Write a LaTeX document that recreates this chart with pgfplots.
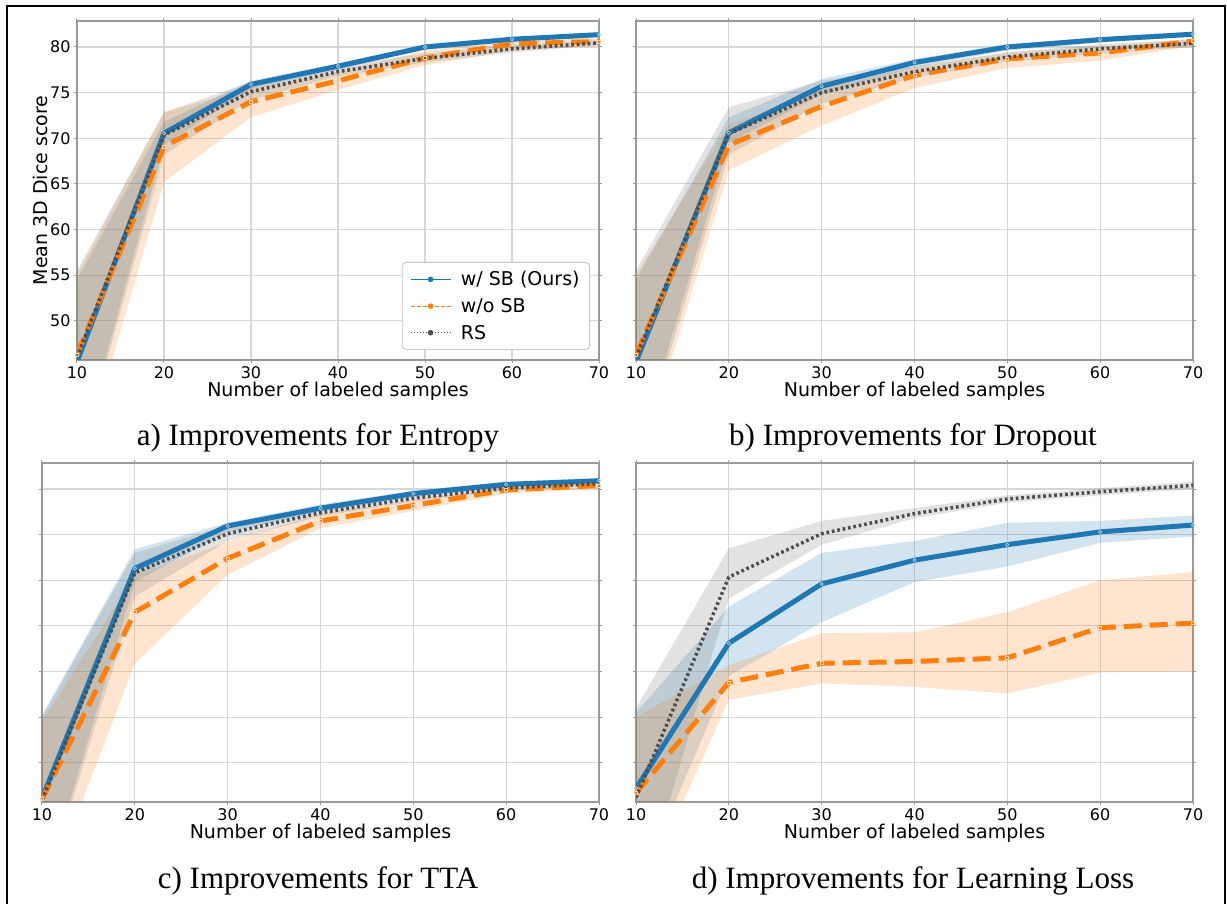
\documentclass[border=0pt]{standalone}
\usepackage{pgfplots}
\pgfplotsset{compat=1.18}
\usepackage{fontspec}
\setmainfont{DejaVu Sans}
\newfontfamily\capfont{Liberation Serif}

\definecolor{cblue}{HTML}{1F77B4}
\definecolor{corange}{HTML}{FF7F0E}
\definecolor{cgray}{HTML}{4D4D4D}
\definecolor{cgrayband}{HTML}{707070}

\pgfplotsset{
  panel/.style={
    scale only axis, width=557pt, height=339pt,
    xmin=10, xmax=70, ymin=45.7, ymax=82.85,
    xtick={10,20,...,70}, ytick={50,55,...,80},
    grid=major, grid style={black!16, line width=1.1pt},
    axis line style={black!40, line width=1.3pt},
    tick align=outside, major tick length=3pt, tick style={black!40, line width=1pt},
    ticklabel style={font=\fontsize{16}{19}\selectfont},
    /pgf/number format/assume math mode=true,
    xlabel={Number of labeled samples},
    every axis x label/.style={at={(axis description cs:0.5,0)}, anchor=base, yshift=-37pt,
      font=\fontsize{19}{23}\selectfont},
    clip=true,
  },
  noylabels/.style={yticklabel={\relax}},
  band/.style={draw=none, fill=#1, fill opacity=0.2, forget plot},
  wsb/.style={cblue, line width=5pt, line join=round, forget plot,
    mark=o, mark size=1.7pt, mark options={solid, draw=white!65!cblue, line width=0.7pt}},
  wosb/.style={corange, line width=5pt, line join=round, forget plot, dash pattern=on 18pt off 8pt,
    mark=square, mark size=1.5pt, mark options={solid, draw=white!65!corange, line width=0.7pt}},
  rs/.style={cgray, line width=3.5pt, forget plot, dash pattern=on 2.7pt off 2.8pt},
}

\begin{document}
\begin{tikzpicture}
\useasboundingbox (0,0) rectangle (1227pt,903pt);
\draw[line width=2pt] (7pt,-10pt) -- (7pt,897pt) -- (1225pt,897pt) -- (1225pt,-10pt);

% ---------------- a) Entropy ----------------
\begin{axis}[panel, at={(77pt,543pt)}, anchor=south west, width=522pt,
  ylabel={Mean 3D Dice score},
  every axis y label/.style={at={(axis description cs:-0.0556,0.5)}, rotate=90, anchor=base,
    font=\fontsize{19}{23}\selectfont},
  legend cell align=left,
  legend image code/.code={
    \draw[#1, line width=0.7pt] (0pt,0pt) -- (40pt,0pt);
    \fill[#1, solid] (20pt,0pt) circle (2.3pt);
  },
  legend style={at={(axis description cs:0.9828,0.0295)}, anchor=south east,
    draw=black!22, rounded corners=4pt, fill=white, line width=0.9pt,
    font=\fontsize{19}{23}\selectfont, row sep=7pt, column sep=8pt,
    inner xsep=8pt, inner ysep=7pt},
]
\addplot[band=cblue] coordinates {(10,54.5)(20,71.8)(30,76.3)(40,78.2)(50,80.3)(60,81.1)(70,81.6)
  (70,81.1)(60,80.6)(50,79.7)(40,77.5)(30,75.4)(20,69.3)(10,34.5)};
\addplot[band=corange] coordinates {(10,55.0)(20,72.9)(30,75.5)(40,77.3)(50,79.6)(60,81.0)(70,81.0)
  (70,80.1)(60,79.6)(50,78.0)(40,75.3)(30,72.3)(20,65.2)(10,32.7)};
\addplot[band=cgrayband] coordinates {(10,55.5)(20,72.8)(30,76.2)(40,77.9)(50,79.3)(60,80.2)(70,80.8)
  (70,80.2)(60,79.4)(50,78.3)(40,76.8)(30,74.2)(20,68.2)(10,33.8)};
\addplot[wsb] coordinates {(10,45.5)(20,70.55)(30,75.9)(40,77.9)(50,80.0)(60,80.85)(70,81.35)};
\addplot[wosb] coordinates {(10,46.3)(20,69.1)(30,74.0)(40,76.3)(50,78.8)(60,80.35)(70,80.6)};
\addplot[rs] coordinates {(10,46.0)(20,70.35)(30,75.1)(40,77.3)(50,78.75)(60,79.8)(70,80.45)};
\addlegendimage{cblue}
\addlegendentry{w/ SB (Ours)}
\addlegendimage{corange, dash pattern=on 4pt off 2pt}
\addlegendentry{w/o SB}
\addlegendimage{cgray, dash pattern=on 1.5pt off 1.5pt}
\addlegendentry{RS}
\end{axis}

% ---------------- b) Dropout ----------------
\begin{axis}[panel, noylabels, at={(636pt,543pt)}, anchor=south west]
\addplot[band=cblue] coordinates {(10,54.5)(20,72.3)(30,76.5)(40,78.7)(50,80.3)(60,81.1)(70,81.7)
  (70,81.1)(60,80.5)(50,79.6)(40,77.8)(30,74.8)(20,69.5)(10,35.0)};
\addplot[band=corange] coordinates {(10,55.0)(20,71.5)(30,75.3)(40,77.8)(50,79.4)(60,80.1)(70,80.9)
  (70,80.1)(60,78.5)(50,77.7)(40,75.5)(30,71.4)(20,66.5)(10,33.0)};
\addplot[band=cgrayband] coordinates {(10,55.5)(20,73.4)(30,76.3)(40,77.9)(50,79.4)(60,80.3)(70,80.8)
  (70,80.0)(60,79.3)(50,78.4)(40,76.7)(30,73.8)(20,68.2)(10,34.0)};
\addplot[wsb] coordinates {(10,45.5)(20,70.6)(30,75.7)(40,78.3)(50,80.0)(60,80.8)(70,81.4)};
\addplot[wosb] coordinates {(10,46.3)(20,69.25)(30,73.5)(40,76.9)(50,78.7)(60,79.35)(70,80.65)};
\addplot[rs] coordinates {(10,46.0)(20,70.5)(30,75.0)(40,77.3)(50,78.9)(60,79.8)(70,80.4)};
\end{axis}

% ---------------- c) TTA ----------------
\begin{axis}[panel, noylabels, at={(42pt,101pt)}, anchor=south west]
\addplot[band=cblue] coordinates {(10,55.2)(20,73.4)(30,76.3)(40,78.3)(50,79.8)(60,80.8)(70,81.2)
  (70,80.6)(60,80.2)(50,79.1)(40,77.5)(30,75.3)(20,69.8)(10,35.5)};
\addplot[band=corange] coordinates {(10,54.5)(20,70.5)(30,74.2)(40,77.3)(50,78.8)(60,80.3)(70,80.7)
  (70,80.0)(60,79.5)(50,77.6)(40,75.7)(30,70.6)(20,60.9)(10,34.2)};
\addplot[band=cgrayband] coordinates {(10,55.0)(20,73.0)(30,76.0)(40,77.9)(50,79.4)(60,80.4)(70,80.9)
  (70,80.3)(60,79.8)(50,78.6)(40,77.0)(30,74.3)(20,68.2)(10,35.0)};
\addplot[wsb] coordinates {(10,46.1)(20,71.3)(30,75.95)(40,77.9)(50,79.5)(60,80.5)(70,80.9)};
\addplot[wosb] coordinates {(10,46.0)(20,66.5)(30,72.4)(40,76.5)(50,78.2)(60,79.9)(70,80.4)};
\addplot[rs] coordinates {(10,45.9)(20,70.8)(30,75.1)(40,77.4)(50,79.0)(60,80.1)(70,80.6)};
\end{axis}

% ---------------- d) Learning Loss ----------------
\begin{axis}[panel, noylabels, at={(636pt,101pt)}, anchor=south west]
\addplot[band=cblue] coordinates {(10,55.5)(20,67.1)(30,73.0)(40,74.3)(50,76.3)(60,76.5)(70,77.1)
  (70,74.8)(60,74.1)(50,71.5)(40,69.8)(30,65.4)(20,59.5)(10,35.7)};
\addplot[band=corange] coordinates {(10,55.0)(20,60.7)(30,64.2)(40,64.3)(50,66.5)(60,70.0)(70,70.9)
  (70,60.0)(60,59.9)(50,57.6)(40,58.3)(30,58.7)(20,56.9)(10,34.2)};
\addplot[band=cgrayband] coordinates {(10,56.0)(20,73.5)(30,76.5)(40,77.9)(50,79.3)(60,80.1)(70,80.8)
  (70,80.0)(60,79.3)(50,78.5)(40,76.8)(30,73.9)(20,68.0)(10,33.4)};
\addplot[wsb] coordinates {(10,47.2)(20,63.1)(30,69.6)(40,72.2)(50,73.9)(60,75.3)(70,76.05)};
\addplot[wosb] coordinates {(10,46.7)(20,58.8)(30,60.9)(40,61.1)(50,61.5)(60,64.8)(70,65.3)};
\addplot[rs] coordinates {(10,46.2)(20,70.35)(30,75.1)(40,77.3)(50,78.9)(60,79.7)(70,80.4)};
\end{axis}

% panel captions
\begin{scope}[every node/.style={anchor=base, font=\capfont\fontsize{31}{36}\selectfont}]
\node at (318pt,457pt) {a) Improvements for Entropy};
\node at (913pt,457pt) {b) Improvements for Dropout};
\node at (318pt,15pt) {c) Improvements for TTA};
\node at (913pt,15pt) {d) Improvements for Learning Loss};
\end{scope}
\end{tikzpicture}
\end{document}
